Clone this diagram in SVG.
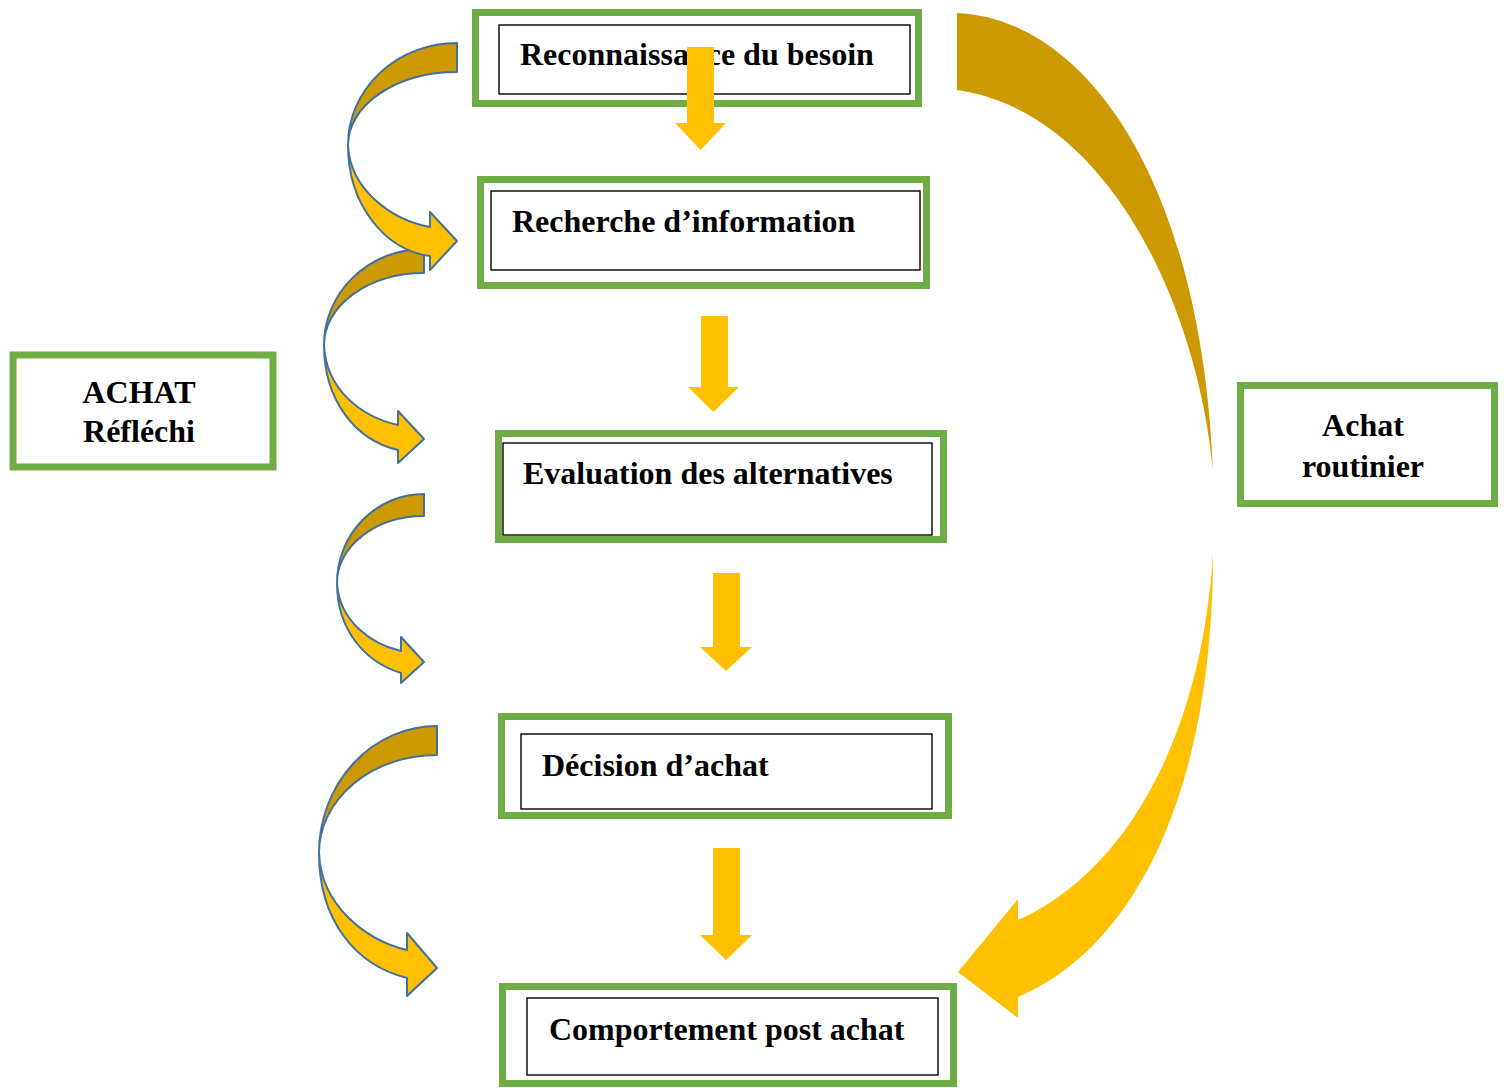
<svg xmlns="http://www.w3.org/2000/svg" width="1504" height="1088" viewBox="0 0 1504 1088">
<style>
.g{fill:#fff;stroke:#70AD47;stroke-width:7}
.k{fill:none;stroke:#000;stroke-width:1.4}
.t{font-family:"Liberation Serif","Times New Roman",serif;font-weight:bold;font-size:32px;fill:#000}
.y{fill:#FFC000}
.d{fill:#CC9900}
.cy{fill:#FFC000;stroke:#41719C;stroke-width:2;stroke-linejoin:round}
.cd{fill:#CC9900;stroke:#41719C;stroke-width:2;stroke-linejoin:round}
</style>
<rect width="1504" height="1088" fill="#fff"/>
<g id="n1"><rect class="g" x="475.5" y="12.5" width="443" height="91"/><rect class="k" x="499" y="25" width="411" height="69"/><text class="t" x="520" y="65">Reconnaissance du besoin</text></g>
<g id="n2"><rect class="g" x="480.5" y="179.5" width="446" height="106"/><rect class="k" x="491" y="191" width="429" height="79"/><text class="t" x="512" y="232">Recherche d’information</text></g>
<g id="n3"><rect class="g" x="498.5" y="433.5" width="445" height="106"/><rect class="k" x="503" y="443" width="429" height="92"/><text class="t" x="523" y="484">Evaluation des alternatives</text></g>
<g id="n4"><rect class="g" x="501.5" y="716.5" width="447" height="99"/><rect class="k" x="521" y="734" width="411" height="75"/><text class="t" x="542" y="776">Décision d’achat</text></g>
<g id="n5"><rect class="g" x="502.5" y="986.5" width="451" height="97"/><rect class="k" x="527" y="998" width="411" height="77"/><text class="t" x="549" y="1040">Comportement post achat</text></g>
<g id="n6"><rect class="g" x="13" y="355" width="260" height="112"/><text class="t" x="139" y="403" text-anchor="middle">ACHAT</text><text class="t" x="139" y="442" text-anchor="middle">Réfléchi</text></g>
<g id="n7"><rect class="g" x="1240.5" y="385.5" width="254" height="118"/><text class="t" x="1363" y="436" text-anchor="middle">Achat</text><text class="t" x="1363" y="477" text-anchor="middle">routinier</text></g>
<g id="connectors">
<path class="y" d="M687,47 H714 V123 H726 L700.5,150 L675,123 H687 Z"/>
<path class="y" d="M701,316 H728 V387 H739 L713.5,412 L688,387 H701 Z"/>
<path class="y" d="M713,573 H740 V647 H752 L726,671 L700,647 H713 Z"/>
<path class="y" d="M713,848 H740 V935 H752 L726,960 L700,935 H713 Z"/>
<path class="cd" d="M437,726 A118,127 0 0 0 319,853 A118,98 0 0 1 437,755 Z"/>
<path class="cy" d="M319,853 C319,920 355,965 407,978 L407,996 L437,968 L407,933 L407,950 C365,940 321,905 319,853 Z"/>
<path class="cd" d="M424,494 A87,89 0 0 0 337,583 A87,67 0 0 1 424,516 Z"/>
<path class="cy" d="M337,583 C337,630 365,662 401,673 L401,683 L424,662 L401,637 L401,651 C370,644 339,620 337,583 Z"/>
<path class="cd" d="M424,249 A100,96 0 0 0 324,345 A100,72 0 0 1 424,273 Z"/>
<path class="cy" d="M324,345 C324,400 355,440 398,450 L398,463 L424,439 L398,411 L398,425 C362,417 326,390 324,345 Z"/>
<path class="cd" d="M457,43 A109,102 0 0 0 348,145 A109,73 0 0 1 457,72 Z"/>
<path class="cy" d="M348,145 C348,205 385,250 430,256 L430,270 L457,241 L430,212 L430,227 C392,220 350,190 348,145 Z"/>
<path class="d" d="M957,13 C1080,18 1200,170 1213,470 C1195,290 1100,110 957,90 Z"/>
<path class="y" d="M1213,553 C1213,800 1130,950 1018,997 L1018,1018 L958,972 L1018,899 L1018,920 C1110,880 1200,760 1213,553 Z"/>
</g>
</svg>
